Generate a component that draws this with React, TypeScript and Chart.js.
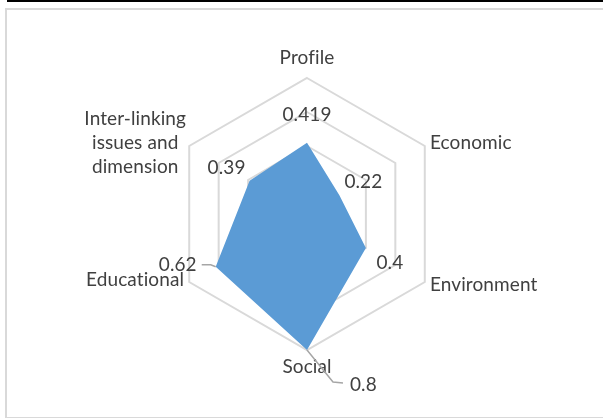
import React, { useEffect, useRef } from "react";
import { Chart, registerables } from "chart.js";

Chart.register(...registerables);

// ---- data ----
const categories: (string | string[])[] = [
  "Profile",
  "Economic",
  "Environment",
  "Social",
  "Educational",
  ["Inter-linking", "issues and", "dimension"],
];
const values = [0.419, 0.22, 0.4, 0.8, 0.62, 0.39];
const valueLabels = ["0.419", "0.22", "0.4", "0.8", "0.62", "0.39"];
const scaleMin = 0;
const scaleMax = 0.8;
const scaleStep = 0.2;

const FONT = "19px Lato";
const TEXT = "#404040";
const LEADER = "#a6a6a6";

const labelsPlugin = {
  id: "radarLabels",
  afterDatasetsDraw(chart: any) {
    const scale = chart.scales.r;
    const ctx: any = chart.ctx;
    const R = scale.drawingArea;
    ctx.save();
    ctx.font = FONT;
    ctx.fillStyle = TEXT;
    ctx.textBaseline = "middle";
    try {
      ctx.letterSpacing = "0.1px";
    } catch (e) {}

    // category labels
    (chart.data.labels as (string | string[])[]).forEach((lab, i) => {
      const lines = Array.isArray(lab) ? lab : [lab];
      const angle = scale.getIndexAngle(i);
      const s = Math.sin(angle);
      const c = Math.cos(angle);
      if (Math.abs(s) < 0.01) {
        const p = scale.getPointPosition(i, R + (c > 0 ? 20 : 17));
        ctx.textAlign = "center";
        ctx.fillText(lines[0], p.x, p.y);
        return;
      }
      const p = scale.getPointPosition(i, R + 6);
      const lh = 24;
      const widths = lines.map((l) => ctx.measureText(l).width);
      const maxW = Math.max(...widths);
      let y0 = p.y - ((lines.length - 1) * lh) / 2;
      if (s < 0 && c < 0) y0 -= 5; // Educational nudged up
      ctx.textAlign = "center";
      const cx = s > 0 ? p.x + maxW / 2 : p.x - maxW / 2 + (lines.length > 1 ? 2 : 0);
      lines.forEach((l, k) => ctx.fillText(l, cx, y0 + k * lh));
    });

    // value labels
    const offs: [number, number, CanvasTextAlign][] = [
      [0, -28, "center"],
      [24, -13, "center"],
      [24, 15, "center"],
      [43, 35, "left"],
      [-19, -2, "right"],
      [-23, -13, "center"],
    ];
    const vals = chart.data.datasets[0].data as number[];
    vals.forEach((v, i) => {
      const p = scale.getPointPositionForValue(i, v);
      const [dx, dy, al] = offs[i];
      ctx.textAlign = al;
      ctx.fillStyle = TEXT;
      ctx.fillText(valueLabels[i], p.x + dx, p.y + dy);
      ctx.strokeStyle = LEADER;
      ctx.lineWidth = 1.5;
      if (i === 3) {
        ctx.beginPath();
        ctx.moveTo(p.x, p.y);
        ctx.lineTo(p.x + 26, p.y + 32);
        ctx.lineTo(p.x + 36, p.y + 33);
        ctx.stroke();
      }
      if (i === 4) {
        ctx.beginPath();
        ctx.moveTo(p.x - 14, p.y - 2);
        ctx.lineTo(p.x - 5, p.y - 2);
        ctx.lineTo(p.x, p.y);
        ctx.stroke();
      }
    });
    ctx.restore();
  },
};

export default function App() {
  const ref = useRef<HTMLCanvasElement | null>(null);
  useEffect(() => {
    if (!ref.current) return;
    const chart = new Chart(ref.current, {
      type: "radar",
      data: {
        labels: categories,
        datasets: [
          {
            data: values,
            backgroundColor: "#5B9BD5",
            borderColor: "#5B9BD5",
            borderWidth: 0,
            pointRadius: 0,
            fill: true,
          },
        ],
      },
      options: {
        responsive: false,
        animation: false,
        layout: { padding: { top: 78, bottom: 68, left: 107, right: 96 } },
        plugins: { legend: { display: false }, tooltip: { enabled: false } },
        scales: {
          r: {
            min: scaleMin,
            max: scaleMax,
            ticks: { display: false, stepSize: scaleStep },
            grid: { color: "#d9d9d9", lineWidth: 2 },
            angleLines: { display: false },
            pointLabels: { display: false },
          },
        },
      },
      plugins: [labelsPlugin],
    } as any);
    return () => chart.destroy();
  }, []);

  return (
    <div style={{ position: "absolute", left: 0, top: 0, width: 603, height: 418, overflow: "hidden", background: "#fff" }}>
      <div style={{ position: "absolute", left: 7, top: 0, width: 596, height: 2, background: "#000" }} />
      <div
        style={{
          position: "absolute",
          left: 5,
          top: 8,
          width: 620,
          height: 407,
          border: "2px solid #d9d9d9",
        }}
      />
      <canvas ref={ref} width={603} height={418} style={{ position: "absolute", left: 0, top: 0, width: 603, height: 418 }} />
    </div>
  );
}
